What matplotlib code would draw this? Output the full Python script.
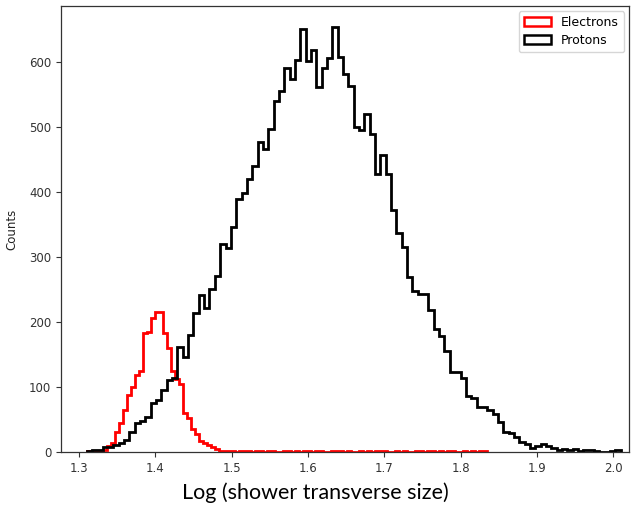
import numpy as np
import matplotlib
matplotlib.use("Agg")
import matplotlib.pyplot as plt

# ---------------- data ----------------
proton_range = (1.31, 2.01)
electron_range = (1.31, 1.835)

proton_counts = [
    2, 3, 3, 7, 8, 10, 14, 18, 31, 45,
    47, 54, 75, 80, 96, 111, 114, 162, 146, 180,
    214, 241, 221, 251, 271, 320, 314, 346, 389, 398,
    420, 440, 477, 466, 497, 540, 555, 590, 574, 603,
    651, 601, 618, 561, 590, 606, 654, 608, 582, 563,
    500, 495, 520, 489, 428, 457, 428, 372, 337, 315,
    269, 248, 243, 243, 218, 189, 178, 155, 123, 123,
    114, 86, 83, 69, 69, 65, 58, 46, 31, 29,
    23, 16, 12, 6, 9, 13, 9, 6, 3, 5,
    3, 4, 2, 3, 3, 1, 0, 0, 2, 3,
]

electron_counts = [
    1, 1, 2, 2, 3, 9, 14, 30, 45, 65,
    88, 100, 118, 125, 183, 184, 206, 215, 215, 183,
    160, 124, 113, 104, 60, 52, 36, 27, 17, 14,
    11, 8, 4, 2, 2, 1, 1, 0, 1, 2,
    1, 0, 1, 1, 0, 2, 1, 0, 0, 1,
    1, 0, 1, 0, 2, 1, 0, 1, 1, 0,
    0, 2, 1, 1, 0, 1, 0, 0, 1, 0,
    1, 0, 1, 2, 1, 0, 0, 1, 0, 1,
    0, 0, 1, 1, 0, 2, 1, 0, 1, 0,
    1, 1, 0, 0, 1, 0, 1, 0, 1, 1,
]

labels = ["Electrons", "Protons"]
x_ticks = [1.3, 1.4, 1.5, 1.6, 1.7, 1.8, 1.9, 2.0]
y_ticks = [0, 100, 200, 300, 400, 500, 600]
x_label = "Log (shower transverse size)"
y_label = "Counts"

# ---------------- plot ----------------
W, H = 631, 508
fig = plt.figure(figsize=(W / 100, H / 100), dpi=100)
ax = fig.add_axes([61 / W, (H - 452) / H, (629 - 61) / W, (452 - 6) / H])

p_edges = np.linspace(proton_range[0], proton_range[1], len(proton_counts) + 1)
e_edges = np.linspace(electron_range[0], electron_range[1], len(electron_counts) + 1)
p_centers = 0.5 * (p_edges[:-1] + p_edges[1:])
e_centers = 0.5 * (e_edges[:-1] + e_edges[1:])

ax.hist(e_centers, bins=e_edges, weights=electron_counts, histtype="step",
        color="#ff0000", linewidth=2.0, label=labels[0])
ax.hist(p_centers, bins=p_edges, weights=proton_counts, histtype="step",
        color="black", linewidth=2.0, label=labels[1])

ax.set_xlim(1.2764, 2.0208)
ax.set_ylim(0, 686)
ax.set_xticks(x_ticks)
ax.set_yticks(y_ticks)
ax.set_xticklabels([f"{t:.1f}" for t in x_ticks])
ax.tick_params(labelsize=8.5, colors="#333333", length=3.5, width=0.8)
for s in ax.spines.values():
    s.set_color("#333333")
    s.set_linewidth(0.9)

ax.set_ylabel(y_label, fontsize=8.5, color="#222222", labelpad=8)
fig.text(315 / W, 1 - 493 / H, x_label, ha="center", va="center",
         fontsize=15.5, family="Lato", color="black")

leg = ax.legend(loc="upper right", fontsize=9, frameon=True, handlelength=2.2,
                borderaxespad=0.4, fancybox=True, labelspacing=0.4)
for h in leg.legend_handles:
    h.set_linewidth(1.8)

fig.savefig("out.png", dpi=100)
